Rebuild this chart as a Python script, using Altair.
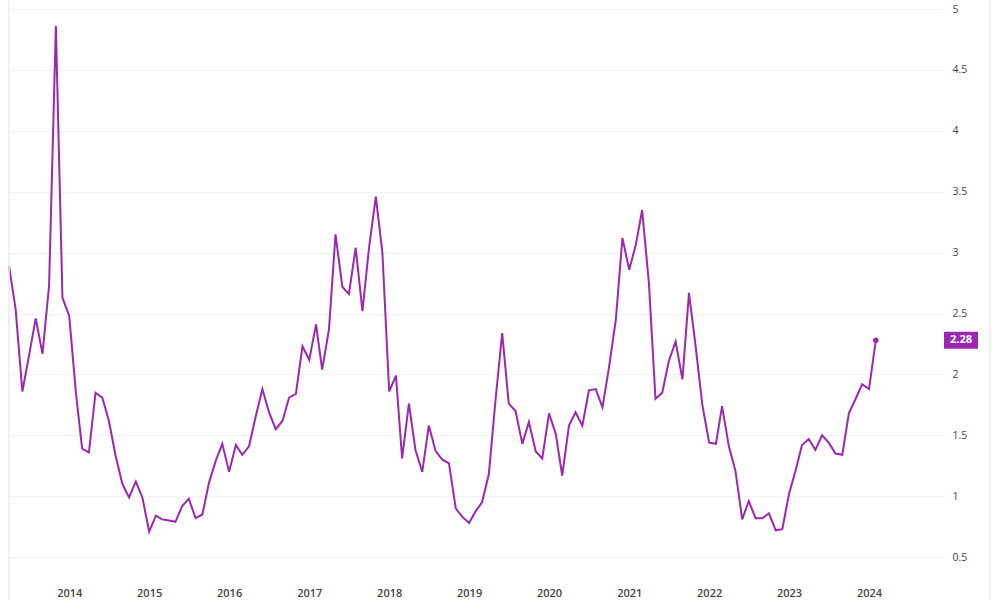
import altair as alt
import pandas as pd

# Monthly values, Apr 2013 .. Feb 2024
values = [
    2.89, 2.54, 1.86, 2.15, 2.46, 2.17, 2.73, 4.86, 2.63,
    2.48, 1.84, 1.39, 1.36, 1.85, 1.81, 1.62, 1.33, 1.10, 0.99, 1.12, 0.99,
    0.71, 0.84, 0.81, 0.80, 0.79, 0.92, 0.98, 0.82, 0.85, 1.11, 1.29, 1.43,
    1.20, 1.42, 1.34, 1.41, 1.65, 1.88, 1.69, 1.55, 1.62, 1.81, 1.84, 2.23,
    2.12, 2.41, 2.04, 2.37, 3.15, 2.72, 2.66, 3.04, 2.52, 3.04, 3.46, 3.00,
    1.86, 1.99, 1.31, 1.76, 1.38, 1.20, 1.58, 1.37, 1.30, 1.27, 0.90, 0.83,
    0.78, 0.88, 0.95, 1.18, 1.78, 2.34, 1.76, 1.70, 1.43, 1.61, 1.37, 1.31,
    1.68, 1.51, 1.17, 1.58, 1.69, 1.58, 1.87, 1.88, 1.73, 2.06, 2.45, 3.12,
    2.86, 3.07, 3.35, 2.75, 1.80, 1.85, 2.11, 2.27, 1.96, 2.67, 2.22, 1.75,
    1.44, 1.43, 1.74, 1.41, 1.21, 0.81, 0.96, 0.82, 0.82, 0.86, 0.72, 0.73,
    1.02, 1.22, 1.42, 1.47, 1.38, 1.50, 1.44, 1.35, 1.34, 1.68, 1.80, 1.92,
    1.88, 2.28,
]
dates = [d.strftime("%Y-%m-%dT00:00:00") for d in pd.date_range("2013-04-01", periods=len(values), freq="MS")]
year_ticks = list(range(2014, 2025))
y_ticks = [0.5, 1, 1.5, 2, 2.5, 3, 3.5, 4, 4.5, 5]

PURPLE = "#9c27b0"
FONT = "Open Sans"
W, H = 936, 580

df = pd.DataFrame({"date": dates, "value": values})
last = df.tail(1).assign(label=lambda d: d["value"].map(lambda v: f"{v:.2f}"))

x_enc = alt.X(
    "date:T",
    scale=alt.Scale(domain=[alt.DateTime(year=2013, month=4, date=1),
                            alt.DateTime(year=2024, month=12, date=13)]),
    axis=alt.Axis(
        values=[alt.DateTime(year=y, month=1, date=1) for y in year_ticks],
        format="%Y", title=None, grid=False, domain=False, ticks=False,
        labelFont=FONT, labelFontSize=11, labelFontWeight=600, labelColor="#444",
        labelPadding=6,
    ),
)
y_enc = alt.Y(
    "value:Q",
    scale=alt.Scale(domain=[0.304, 5.066], nice=False, zero=False),
    axis=alt.Axis(
        orient="right", values=y_ticks, format="~g", title=None, domain=False, ticks=False,
        gridColor="#f2f2f2", gridWidth=1, labelFont=FONT, labelFontSize=10.5,
        labelColor="#444", labelPadding=7,
    ),
)

line = alt.Chart(df).mark_line(color=PURPLE, strokeWidth=2).encode(x=x_enc, y=y_enc)

dot = alt.Chart(last).mark_circle(color=PURPLE, size=30, opacity=1).encode(x="date:T", y="value:Q")

box = alt.Chart(last).mark_point(
    shape="M-1,-0.5H1V0.5H-1Z", size=1156, filled=True, opacity=1,
    color=PURPLE, strokeWidth=0,
).encode(x=alt.value(952), y="value:Q")

box_text = alt.Chart(last).mark_text(
    color="white", font=FONT, fontSize=11, fontWeight="bold",
    align="center", baseline="middle",
).encode(x=alt.value(952), y="value:Q", text="label:N")

frame = pd.DataFrame({"k": [0]})
left_border = alt.Chart(frame).mark_rule(color="#ebebeb", strokeWidth=1.5).encode(
    x=alt.value(0), y=alt.value(0), y2=alt.value(600))
right_border = alt.Chart(frame).mark_rule(color="#ebebeb", strokeWidth=1.5).encode(
    x=alt.value(981), y=alt.value(0), y2=alt.value(600))

chart = alt.layer(line, dot, box, box_text, left_border, right_border).properties(
    width=W, height=H,
    background="white",
    padding={"left": 5, "top": 0, "right": 0, "bottom": 0},
).configure_view(
    stroke="transparent", strokeWidth=0
).configure_axis(
    domain=False, ticks=False
)

chart.save("out.html", embed_options={"renderer": "svg", "actions": False})
